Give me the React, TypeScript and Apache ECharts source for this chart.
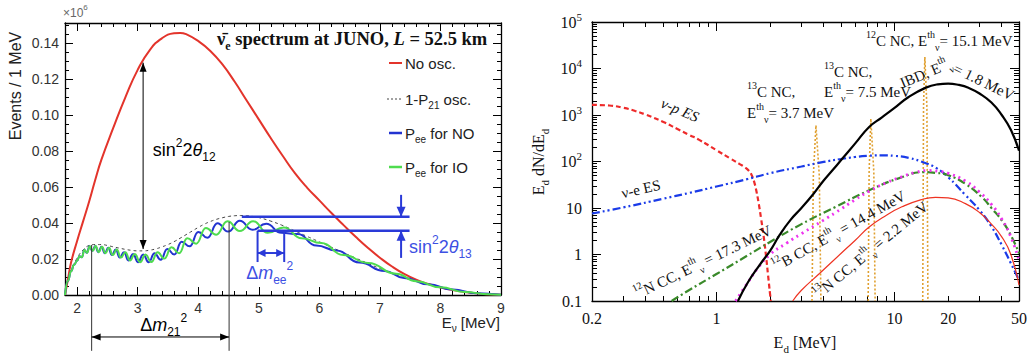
import React, { useEffect, useRef } from "react";
import * as echarts from "echarts";

const SANS = "'Liberation Sans', Arial, Helvetica, sans-serif";
const SERIF = "'Liberation Serif', 'Times New Roman', serif";

// ---------------- Left panel (JUNO spectrum) ----------------
const leftXTicks = [2, 3, 4, 5, 6, 7, 8, 9];
const leftYTicks = [0, 0.02, 0.04, 0.06, 0.08, 0.1, 0.12, 0.14];

const noOsc: [number, number][] = [
  [1.8, 0], [1.85, 0.009], [1.9, 0.018], [2.0, 0.03], [2.1, 0.041], [2.2, 0.052], [2.3, 0.064],
  [2.4, 0.075], [2.6, 0.093], [2.8, 0.11], [3.0, 0.125], [3.2, 0.136], [3.4, 0.1425], [3.6, 0.1453],
  [3.7, 0.1455], [3.8, 0.1448], [4.0, 0.141], [4.2, 0.1355], [4.4, 0.128], [4.6, 0.1185], [4.8, 0.108],
  [5.0, 0.0975], [5.2, 0.087], [5.4, 0.077], [5.6, 0.0675], [5.8, 0.0595], [6.0, 0.0525], [6.2, 0.0455],
  [6.4, 0.0388], [6.6, 0.0323], [6.8, 0.0262], [7.0, 0.0207], [7.2, 0.0158], [7.4, 0.0117], [7.6, 0.0085],
  [7.8, 0.0061], [8.0, 0.0042], [8.2, 0.0028], [8.4, 0.0017], [8.6, 0.0009], [8.8, 0.0004], [9.0, 0.0001],
];

const p21Osc: [number, number][] = [
  [1.8, 0], [1.85, 0.008], [1.9, 0.0135], [2.0, 0.0205], [2.1, 0.025], [2.2, 0.0275], [2.3, 0.028],
  [2.4, 0.028], [2.5, 0.0275], [2.6, 0.0267], [2.7, 0.026], [2.8, 0.0253], [2.9, 0.0248], [3.0, 0.0245],
  [3.1, 0.0245], [3.2, 0.0249], [3.3, 0.0256], [3.4, 0.0267], [3.5, 0.028], [3.6, 0.0296], [3.7, 0.0315],
  [3.8, 0.0335], [3.9, 0.0355], [4.0, 0.0375], [4.1, 0.0393], [4.2, 0.0408], [4.3, 0.042], [4.4, 0.0429],
  [4.5, 0.0436], [4.6, 0.044], [4.7, 0.0441], [4.8, 0.044], [4.9, 0.0436], [5.0, 0.043], [5.2, 0.041],
  [5.4, 0.0385], [5.6, 0.0355], [5.8, 0.0325], [6.0, 0.0295], [6.2, 0.0265], [6.4, 0.0235], [6.6, 0.0205],
  [6.8, 0.0176], [7.0, 0.0147], [7.2, 0.012], [7.4, 0.0096], [7.6, 0.0075], [7.8, 0.0058], [8.0, 0.0043],
  [8.2, 0.003], [8.4, 0.0019], [8.6, 0.0011], [8.8, 0.0005], [9.0, 0.0001],
];

const peeNO: [number, number][] = [
  [1.8, 0], [1.85, 0.008], [1.9, 0.0132], [1.95, 0.0168], [2.0, 0.019], [2.038, 0.0215], [2.078, 0.021],
  [2.119, 0.025], [2.161, 0.0235], [2.206, 0.027], [2.252, 0.0245], [2.3, 0.0272], [2.35, 0.0238],
  [2.403, 0.0268], [2.458, 0.0232], [2.515, 0.0262], [2.575, 0.0222], [2.638, 0.0252], [2.704, 0.0208],
  [2.774, 0.0238], [2.847, 0.0192], [2.924, 0.0228], [3.005, 0.0182], [3.091, 0.0225], [3.182, 0.0182],
  [3.278, 0.0232], [3.38, 0.0196], [3.489, 0.0255], [3.604, 0.0225], [3.727, 0.0295], [3.859, 0.027],
  [4.001, 0.035], [4.153, 0.0318], [4.317, 0.0398], [4.494, 0.0352], [4.686, 0.0412], [4.895, 0.0362],
  [5.123, 0.0395], [5.372, 0.0345], [5.646, 0.0338], [5.949, 0.0275], [6.285, 0.0247], [6.66, 0.018],
  [7.08, 0.0133], [7.4, 0.0095], [7.8, 0.0059], [8.2, 0.003], [8.6, 0.001], [9.0, 0.0001],
];

const peeIO: [number, number][] = [
  [1.8, 0], [1.85, 0.008], [1.9, 0.0132], [1.95, 0.0168], [2.0, 0.019], [2.039, 0.0215], [2.079, 0.021],
  [2.121, 0.025], [2.164, 0.0235], [2.21, 0.027], [2.257, 0.0245], [2.306, 0.0272], [2.357, 0.0238],
  [2.412, 0.0268], [2.468, 0.0232], [2.527, 0.0262], [2.589, 0.0222], [2.655, 0.0252], [2.724, 0.0208],
  [2.797, 0.0238], [2.873, 0.0192], [2.954, 0.0228], [3.039, 0.0182], [3.129, 0.0225], [3.225, 0.0183],
  [3.329, 0.0237], [3.44, 0.0202], [3.558, 0.0265], [3.684, 0.0232], [3.819, 0.0315], [3.966, 0.0285],
  [4.126, 0.0372], [4.297, 0.0335], [4.483, 0.041], [4.686, 0.0355], [4.906, 0.041], [5.148, 0.0345],
  [5.413, 0.0375], [5.707, 0.0315], [6.033, 0.0288], [6.398, 0.0222], [6.807, 0.0178], [7.27, 0.0118],
  [7.6, 0.0076], [8.0, 0.0043], [8.4, 0.0017], [8.8, 0.0004], [9.0, 0.0001],
];

// ---------------- Right panel (deposited energy spectra) ----------------
const logXLabels = [0.2, 1, 10, 20, 50];
const logXMajor = [1, 10];
const logXMinor = [0.3, 0.4, 0.5, 0.6, 0.7, 0.8, 0.9, 2, 3, 4, 5, 6, 7, 8, 9, 20, 30, 40];
const logYLabels = [0.1, 1, 10, 100, 1000, 10000, 100000];

const ibd: [number, number][] = [
  [1.32, 0.1], [1.5, 0.25], [1.75, 0.6], [2, 1.2], [2.26, 2.6], [2.6, 5.5], [3, 10], [3.5, 20], [4, 39],
  [4.47, 64], [5, 106], [6, 242], [7.2, 552], [8.5, 890], [10, 1420], [12, 2440], [15, 3880], [17.5, 4560],
  [20, 4735], [23, 4430], [26, 3850], [30, 2900], [35, 1850], [40, 1000], [45, 480], [50, 170],
];
const nuP: [number, number][] = [
  [0.2, 1650], [0.25, 1600], [0.3, 1430], [0.35, 1220], [0.4, 1020], [0.5, 716], [0.6, 506], [0.7, 376],
  [0.8, 292], [1.0, 175], [1.2, 115], [1.35, 88], [1.45, 74], [1.52, 63], [1.58, 50], [1.63, 36],
  [1.68, 22], [1.73, 12], [1.78, 6], [1.84, 2.5], [1.9, 0.9], [1.95, 0.35], [2.0, 0.14], [2.02, 0.1],
];
const nuE: [number, number][] = [
  [0.2, 7.6], [0.3, 10.3], [0.5, 15.8], [0.7, 21], [1, 29], [1.5, 42], [2, 56], [3, 78], [4, 98], [5, 113],
  [6, 125], [7, 132], [8.5, 136], [10, 132], [12, 120], [15, 92], [17, 74], [20, 46], [25, 19], [30, 9],
  [35, 4], [40, 1.6], [45, 0.65], [50, 0.28],
];
const n12CC: [number, number][] = [
  [0.56, 0.1], [0.7, 0.17], [1, 0.38], [1.5, 0.96], [2, 1.86], [3, 4.5], [4.67, 10.6], [7.2, 24], [11, 46],
  [14.4, 59], [17, 57], [20, 51], [25, 33], [31, 17], [35, 10], [40, 5.4], [45, 2.6], [50, 1.06],
];
const b12CC: [number, number][] = [
  [1.28, 0.1], [1.5, 0.25], [1.7, 0.5], [2, 1.0], [2.5, 1.8], [3, 2.8], [4, 5.5], [4.67, 8], [6, 15],
  [7.2, 23], [9, 35], [11, 47], [13, 58], [15.6, 64], [18, 61], [20, 56], [25, 38], [30, 22], [35, 12],
  [40, 5.8], [45, 2.4], [50, 0.75],
];
const n13CC: [number, number][] = [
  [2.68, 0.1], [3, 0.17], [3.79, 0.39], [5, 1.05], [6, 2.0], [7.2, 3.9], [9, 7], [11, 10.6], [14, 15],
  [17, 17], [20, 16.5], [25, 12.4], [30, 8], [35, 4.5], [40, 2.4], [45, 1.0], [50, 0.22],
];
const c13NC37: [number, number][] = [[3.44, 0.1], [3.5, 50], [3.62, 600], [3.78, 50], [3.86, 0.1]];
const c13NC75: [number, number][] = [[7.11, 0.1], [7.2, 60], [7.36, 830], [7.65, 60], [7.78, 0.1]];
const c12NC151: [number, number][] = [[14.4, 0.1], [14.55, 1500], [14.8, 17700], [15.2, 1500], [15.4, 0.1]];

type P = [number, number];

function buildMinor(): { lx: number[]; ly: number[]; ry: number[] } {
  const lx: number[] = [];
  for (let k = 11; k <= 44; k++) if (k % 5 !== 0) lx.push(k / 5);
  const ly: number[] = [];
  for (let k = 1; k <= 30; k++) if (k % 4 !== 0) ly.push(+(k * 0.005).toFixed(3));
  const ry: number[] = [];
  for (let d = -1; d <= 4; d++) for (let m = 2; m <= 9; m++) ry.push(m * Math.pow(10, d));
  return { lx, ly, ry };
}

const frameLine = { show: true, onZero: false, lineStyle: { color: "#000", width: 1.3 } };

function tickAxis(grid: number, pos: string, min: number, max: number, ticks: number[], len: number, showLine: boolean, label?: any) {
  return {
    type: "value",
    gridIndex: grid,
    position: pos,
    min,
    max,
    axisLine: showLine ? frameLine : { show: false, onZero: false },
    axisTick: { show: true, inside: true, length: len, customValues: ticks, lineStyle: { color: "#000", width: 1 } },
    axisLabel: label ? label : { show: false },
    splitLine: { show: false },
  };
}

function buildOption() {
  const { lx, ly, ry } = buildMinor();
  const L10 = (a: number[]) => a.map((v) => Math.log10(v));
  const lxMin = Math.log10(0.2), lxMax = Math.log10(50);
  const leftLabX = { customValues: leftXTicks, fontFamily: SANS, fontSize: 14, color: "#333", margin: 6, formatter: (v: number) => String(v) };
  const leftLabY = { customValues: leftYTicks, fontFamily: SANS, fontSize: 14, color: "#333", margin: 6, formatter: (v: number) => v.toFixed(2) };
  const rightLabX = {
    customValues: L10(logXLabels), fontFamily: SERIF, fontSize: 16, color: "#111", margin: 9,
    formatter: (v: number) => { const r = Math.pow(10, v); return r < 1 ? r.toFixed(1) : String(Math.round(r)); },
  };
  const rightLabY = {
    customValues: L10(logYLabels), fontFamily: SERIF, fontSize: 16, color: "#111", margin: 10, lineHeight: 22,
    formatter: (v: number) => { const n = Math.round(v); if (n === -1) return "0.1"; if (n === 0) return "1"; if (n === 1) return "10"; return "10{sup|" + n + "}"; },
    rich: { sup: { fontFamily: SERIF, fontSize: 11, color: "#111", verticalAlign: "top", lineHeight: 10 } },
  };
  const ln = (data: P[], color: string, width: number, type: any, xi: number, yi: number, smooth: number, z = 3, mono = false) => ({
    type: "line", data, xAxisIndex: xi, yAxisIndex: yi, symbol: "none", smooth,
    ...(mono ? { smoothMonotone: "x" } : {}),
    lineStyle: { color, width, type }, silent: true, z, animation: false,
  });
  return {
    animation: false,
    backgroundColor: "#fff",
    grid: [
      { left: 65, top: 23, width: 436, height: 272 },
      { left: 592, top: 22, width: 427, height: 279 },
    ],
    xAxis: [
      tickAxis(0, "bottom", 1.8, 9, leftXTicks, 8, true, leftLabX),
      tickAxis(0, "bottom", 1.8, 9, lx, 4, false),
      tickAxis(0, "top", 1.8, 9, leftXTicks, 8, true),
      tickAxis(0, "top", 1.8, 9, lx, 4, false),
      { type: "log", logBase: 10, gridIndex: 1, min: 0.2, max: 50, show: false, axisLine: { onZero: false } },
      tickAxis(1, "bottom", lxMin, lxMax, L10(logXMajor), 9, true, rightLabX),
      tickAxis(1, "bottom", lxMin, lxMax, L10(logXMinor), 5, false),
      tickAxis(1, "top", lxMin, lxMax, L10(logXMajor), 9, true),
      tickAxis(1, "top", lxMin, lxMax, L10(logXMinor), 5, false),
    ],
    yAxis: [
      tickAxis(0, "left", 0, 0.151, leftYTicks, 8, true, leftLabY),
      tickAxis(0, "left", 0, 0.151, ly, 4, false),
      tickAxis(0, "right", 0, 0.151, leftYTicks, 8, true),
      tickAxis(0, "right", 0, 0.151, ly, 4, false),
      { type: "log", logBase: 10, gridIndex: 1, min: 0.1, max: 100000, show: false, axisLine: { onZero: false } },
      tickAxis(1, "left", -1, 5, L10(logYLabels), 9, true, rightLabY),
      tickAxis(1, "left", -1, 5, L10(ry), 5, false),
      tickAxis(1, "right", -1, 5, L10(logYLabels), 9, true),
      tickAxis(1, "right", -1, 5, L10(ry), 5, false),
    ],
    series: [
      ln(noOsc, "#e3342b", 2, "solid", 0, 0, 0.5),
      ln(p21Osc, "#444", 1, [3, 3], 0, 0, 0.5),
      ln(peeNO, "#2233d0", 2, "solid", 0, 0, 0.5, 4, true),
      ln(peeIO, "#4fdc4f", 2, "solid", 0, 0, 0.5, 4, true),
      ln(c13NC37, "#e0a030", 1.6, [2, 2], 4, 4, 0, 2),
      ln(c13NC75, "#e0a030", 1.6, [2, 2], 4, 4, 0, 2),
      ln(c12NC151, "#e0a030", 1.6, [2, 2], 4, 4, 0, 2),
      ln(nuP, "#ee2a2a", 2.2, [5, 3], 4, 4, 0.5),
      ln(nuE, "#1a3be8", 2.2, [8, 3, 2, 3, 2, 3], 4, 4, 0.5),
      ln(n12CC, "#3a8a2a", 2.2, [8, 3, 2, 3], 4, 4, 0.5),
      ln(b12CC, "#ee33ee", 2.8, [2, 4], 4, 4, 0.5),
      ln(n13CC, "#ee3322", 1.2, "solid", 4, 4, 0.5),
      ln(ibd, "#000", 2.2, "solid", 4, 4, 0.5, 5),
    ],
  };
}

// ---------------- graphic helpers ----------------
function seg(a: P, b: P, color: string, width: number) {
  return { type: "line", silent: true, z: 10, shape: { x1: a[0], y1: a[1], x2: b[0], y2: b[1] }, style: { stroke: color, lineWidth: width } };
}
function dseg(a: P, b: P, color: string, width: number, dash: number[]) {
  return { type: "line", silent: true, z: 10, shape: { x1: a[0], y1: a[1], x2: b[0], y2: b[1] }, style: { stroke: color, lineWidth: width, lineDash: dash } };
}
function head(tip: P, from: P, len: number, half: number, color: string) {
  const dx = tip[0] - from[0], dy = tip[1] - from[1];
  const d = Math.hypot(dx, dy) || 1;
  const ux = dx / d, uy = dy / d;
  const bx = tip[0] - ux * len, by = tip[1] - uy * len;
  return {
    type: "polygon", silent: true, z: 11,
    shape: { points: [tip, [bx - uy * half, by + ux * half], [bx + uy * half, by - ux * half]] },
    style: { fill: color },
  };
}
function richSet(family: string, size: number, color: string, bold = false) {
  const s = Math.round(size * 0.66);
  const fw = bold ? "bold" : "normal";
  return {
    n: { fontFamily: family, fontSize: size, fill: color, fontWeight: fw, lineHeight: size + 8, verticalAlign: "middle" },
    i: { fontFamily: family, fontSize: size, fill: color, fontWeight: fw, fontStyle: "italic", lineHeight: size + 8, verticalAlign: "middle" },
    sup: { fontFamily: family, fontSize: s, fill: color, fontWeight: fw, lineHeight: s + 1, verticalAlign: "top" },
    sub: { fontFamily: family, fontSize: s, fill: color, fontWeight: fw, lineHeight: s + 1, verticalAlign: "bottom" },
  };
}
function txt(x: number, y: number, text: string, rich: any, align = "left", rotation = 0) {
  return {
    type: "text", silent: true, z: 12, x, y, rotation,
    style: { text, rich, align, verticalAlign: "middle", textAlign: align, textVerticalAlign: "middle" },
  };
}

function buildGraphics(chart: any) {
  const Lp = (p: P): P => chart.convertToPixel({ xAxisIndex: 0, yAxisIndex: 0 }, p) as P;
  const els: any[] = [];
  const blk = "#000", blue = "#2a3ad8", blueT = "#3d50e3";
  const sans17 = richSet(SANS, 18, blk);
  const sans17b = richSet(SANS, 18, blueT);
  const sans15 = richSet(SANS, 15, "#222");
  const serif15 = richSet(SERIF, 15, "#111");
  const serif16 = richSet(SERIF, 16, "#111");

  // sin^2 2theta12 arrow
  const t12a = Lp([3.09, 0.129]), t12b = Lp([3.09, 0.0255]);
  els.push(seg(t12a, t12b, blk, 1), head(t12a, t12b, 9, 3.5, blk), head(t12b, t12a, 9, 3.5, blk));
  const t12 = Lp([3.25, 0.0806]);
  els.push(txt(t12[0], t12[1], "{n|sin}{sup|2}{n|2}{i|θ}{sub|12}", sans17));

  // delta m21 markers
  const v1a = Lp([2.24, 0.0278]), v1b = Lp([2.24, -0.031]);
  const v2a = Lp([4.51, 0.0405]), v2b = Lp([4.51, -0.031]);
  els.push(seg(v1a, v1b, "#333", 1), seg(v2a, v2b, "#333", 1));
  const h1 = Lp([2.24, -0.0233]), h2 = Lp([4.51, -0.0233]);
  els.push(seg(h1, h2, blk, 1), head(h1, h2, 9, 3.5, blk), head(h2, h1, 9, 3.5, blk));
  const dm21 = Lp([3.43, -0.0167]);
  els.push(txt(dm21[0], dm21[1], "{n|Δ}{i|m}{sub|21}{sup|2}", sans17, "center"));

  // theta13 horizontal lines
  els.push(seg(Lp([4.72, 0.0435]), Lp([7.49, 0.0435]), blue, 2.5));
  els.push(seg(Lp([4.98, 0.0357]), Lp([7.49, 0.0357]), blue, 2.5));
  // delta m_ee marker
  els.push(seg(Lp([4.98, 0.0357]), Lp([4.98, 0.0183]), blue, 2));
  els.push(seg(Lp([5.42, 0.0357]), Lp([5.42, 0.0183]), blue, 2));
  const e1 = Lp([4.98, 0.0233]), e2 = Lp([5.42, 0.0233]);
  els.push(seg(e1, e2, blue, 2), head(e1, e2, 8, 4, blue), head(e2, e1, 8, 4, blue));
  const dmee = Lp([5.18, 0.0122]);
  els.push(txt(dmee[0], dmee[1], "{n|Δ}{i|m}{sub|ee}{sup|2}", sans17b, "center"));
  // theta13 arrows
  const d1 = Lp([7.35, 0.0556]), d2 = Lp([7.35, 0.0435]);
  els.push(seg(d1, d2, blue, 2), head(d2, d1, 10, 4.5, blue));
  const u1 = Lp([7.35, 0.0206]), u2 = Lp([7.35, 0.0357]);
  els.push(seg(u1, u2, blue, 2), head(u2, u1, 10, 4.5, blue));
  const t13 = Lp([7.48, 0.0267]);
  els.push(txt(t13[0], t13[1], "{n|sin}{sup|2}{n|2}{i|θ}{sub|13}", sans17b));

  // legend (left panel)
  els.push(seg([389, 63], [402, 63], "#e3342b", 2));
  els.push(txt(405, 63, "{n|No osc.}", sans15));
  els.push(dseg([387, 99], [402, 99], "#444", 1, [2, 2]));
  els.push(txt(405, 99, "{n|1-P}{sub|21}{n| osc.}", sans15));
  els.push(seg([389, 133], [402, 133], "#2233d0", 2.5));
  els.push(txt(405, 133, "{n|P}{sub|ee}{n| for NO}", sans15));
  els.push(seg([389, 167], [402, 167], "#4fdc4f", 2.5));
  els.push(txt(405, 167, "{n|P}{sub|ee}{n| for IO}", sans15));

  // titles & axis names (left)
  els.push(txt(217, 39, "{n|ν̄}{sub|e}{n| spectrum at JUNO, }{i|L}{n| = 52.5 km}", richSet(SERIF, 18.5, "#111", true)));
  els.push(txt(63, 13, "{n|×10}{sup|6}", richSet(SANS, 12, "#666")));
  els.push(txt(500, 322, "{n|E}{sub|ν}{n| [MeV]}", sans15, "right"));
  els.push(txt(15, 86, "{n|Events / 1 MeV}", richSet(SANS, 16, "#222"), "center", Math.PI / 2));

  // right panel texts
  els.push(txt(538, 162, "{n|E}{sub|d}{n| dN/dE}{sub|d}", serif16, "center", Math.PI / 2));
  els.push(txt(805, 342, "{n|E}{sub|d}{n| [MeV]}", serif16, "center"));
  els.push(txt(680, 110, "{i|ν-p ES}", serif15, "center", -0.4));
  els.push(txt(641, 189, "{n|ν-e ES}", serif15, "center", 0.22));
  els.push(txt(747, 92, "{sup|13}{n|C NC,}", serif15));
  els.push(txt(747, 113, "{n|E}{sup|th}{sub|ν}{n|= 3.7 MeV}", serif15));
  els.push(txt(824, 72, "{sup|13}{n|C NC,}", serif15));
  els.push(txt(824, 92, "{n|E}{sup|th}{sub|ν}{n|= 7.5 MeV}", serif15));
  els.push(txt(866, 41, "{sup|12}{n|C NC, E}{sup|th}{sub|ν}{n|= 15.1 MeV}", serif15));
  els.push(txt(926, 73, "{n|IBD, E}{sup|th}{sub|ν}", serif15, "center", 0.4));
  els.push(txt(984, 82, "{n|= 1.8 MeV}", serif15, "center", -0.45));
  els.push(txt(703, 262, "{sup|12}{n|N CC, E}{sup|th}{sub|ν}{n| = 17.3 MeV}", serif15, "center", 0.45));
  els.push(txt(839, 231, "{sup|12}{n|B CC, E}{sup|th}{sub|ν}{n| = 14.4 MeV}", serif15, "center", 0.51));
  els.push(txt(871, 250, "{sup|13}{n|N CC, E}{sup|th}{sub|ν}{n| = 2.2 MeV}", serif15, "center", 0.69));
  return els;
}

export default function App() {
  const ref = useRef<HTMLDivElement>(null);
  useEffect(() => {
    document.body.style.margin = "0";
    const chart = echarts.init(ref.current!, null, { renderer: "svg" });
    chart.setOption(buildOption() as any);
    chart.setOption({ graphic: buildGraphics(chart) } as any);
    return () => chart.dispose();
  }, []);
  return <div ref={ref} style={{ width: 1030, height: 356, background: "#fff" }} />;
}
